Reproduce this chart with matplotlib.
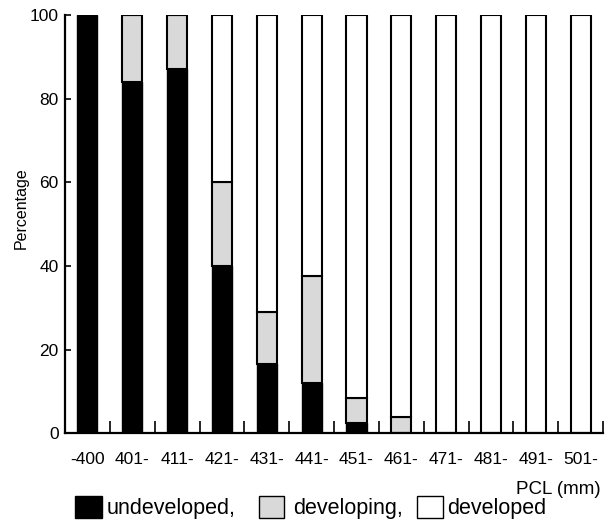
import matplotlib
matplotlib.use("Agg")
import matplotlib.pyplot as plt
import numpy as np
from matplotlib.patches import Rectangle

categories = ["-400", "401-", "411-", "421-", "431-", "441-", "451-", "461-",
              "471-", "481-", "491-", "501-"]
undeveloped = [100, 84, 87, 40, 16.5, 12, 2.5, 0, 0, 0, 0, 0]
developing = [0, 16, 13, 20, 12.5, 25.5, 6, 4, 0, 0, 0, 0]
developed = [100 - u - d for u, d in zip(undeveloped, developing)]

plt.rcParams['font.family'] = ['Liberation Sans', 'DejaVu Sans']

fig = plt.figure(figsize=(6.13, 5.22), dpi=100)
ax = fig.add_axes([0.106, 0.170, 0.878, 0.801])

x = np.arange(len(categories))
w = 0.45
gray = '#d9d9d9'
ax.bar(x, undeveloped, width=w, color='black', edgecolor='black', linewidth=1.0, zorder=2)
ax.bar(x, developing, width=w, bottom=undeveloped, color=gray, edgecolor='black',
       linewidth=1.5, zorder=2)
bottom2 = [u + d for u, d in zip(undeveloped, developing)]
ax.bar(x, developed, width=w, bottom=bottom2, color='white', edgecolor='black',
       linewidth=1.5, zorder=2)

ax.set_xlim(-0.5, len(categories) - 0.5)
ax.set_ylim(0, 100)
ax.set_yticks([0, 20, 40, 60, 80, 100])
ax.tick_params(axis='y', direction='in', length=4, width=1.2, labelsize=12.5, pad=4.5)
ax.set_xticks(x)
ax.set_xticklabels(categories, fontsize=12.5)
ax.tick_params(axis='x', which='major', length=0, pad=13.5)
ax.set_xticks(np.arange(len(categories)) + 0.5, minor=True)
ax.tick_params(axis='x', which='minor', direction='in', length=9, width=1.2)
for s in ['top', 'right']:
    ax.spines[s].set_visible(False)
for s in ['left', 'bottom']:
    ax.spines[s].set_linewidth(1.6)

fig.text(21 / 613, 1 - 208 / 522, 'Percentage', fontsize=11.5, rotation=90,
         ha='center', va='center')

fig.text(0.979, 0.063, 'PCL (mm)', fontsize=13.5, ha='right', va='center')

# legend row
ly = 4 / 522
sh = 22 / 522
def swatch(x0, x1, color):
    fig.patches.append(Rectangle((x0 / 613, ly), (x1 - x0) / 613, sh, transform=fig.transFigure,
                                 facecolor=color, edgecolor='black', linewidth=1.0))
tb = 8 / 522
swatch(75, 102, 'black')
fig.text(107 / 613, tb, 'undeveloped,', fontsize=15.5, va='baseline', ha='left')
swatch(259, 284, gray)
fig.text(293 / 613, tb, 'developing,', fontsize=15.5, va='baseline', ha='left')
swatch(417, 443, 'white')
fig.text(447 / 613, tb, 'developed', fontsize=15.5, va='baseline', ha='left')

fig.savefig('out.png', dpi=100)
